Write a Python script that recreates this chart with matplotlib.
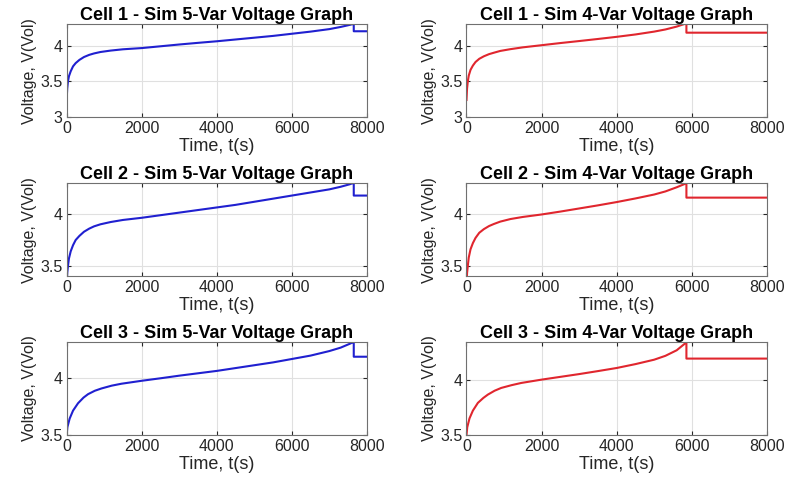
import matplotlib.pyplot as plt

# time (s) and voltage (V)
t5_c1 = [0, 15, 35, 60, 107, 170, 240, 340, 462, 600, 729, 900, 1173, 1500, 2000, 2500, 3000, 3500, 4000,
         4500, 5000, 5500, 6000, 6500, 7000, 7300, 7550, 7620, 7650, 7650, 8000]
v5_c1 = [3.25, 3.40, 3.50, 3.57, 3.64, 3.71, 3.755, 3.80, 3.84, 3.87, 3.89, 3.91, 3.93, 3.948, 3.965, 3.99, 4.015,
         4.038, 4.06, 4.085, 4.11, 4.135, 4.165, 4.195, 4.23, 4.26, 4.29, 4.30, 4.30, 4.20, 4.20]
t4_c1 = [0, 15, 35, 60, 107, 170, 240, 340, 462, 600, 729, 900, 1173, 1500, 2000, 2500, 3000, 3500, 4000,
         4500, 5000, 5300, 5600, 5800, 5860, 5860, 8000]
v4_c1 = [3.24, 3.40, 3.50, 3.58, 3.66, 3.72, 3.77, 3.815, 3.85, 3.88, 3.90, 3.925, 3.95, 3.975, 4.005, 4.035, 4.063,
         4.092, 4.122, 4.155, 4.195, 4.225, 4.265, 4.30, 4.31, 4.18, 4.18]

t5_c2 = [0, 15, 35, 60, 107, 170, 240, 340, 462, 600, 729, 900, 1173, 1500, 2000, 2500, 3000, 3500, 4000,
         4500, 5000, 5500, 6000, 6500, 7000, 7300, 7550, 7620, 7650, 7650, 8000]
v5_c2 = [3.32, 3.43, 3.50, 3.57, 3.64, 3.70, 3.75, 3.79, 3.83, 3.86, 3.882, 3.902, 3.924, 3.944, 3.965, 3.99, 4.015,
         4.04, 4.065, 4.09, 4.12, 4.15, 4.18, 4.21, 4.24, 4.265, 4.29, 4.30, 4.30, 4.18, 4.18]
t4_c2 = [0, 15, 35, 60, 107, 170, 240, 340, 462, 600, 729, 900, 1173, 1500, 2000, 2500, 3000, 3500, 4000,
         4500, 5000, 5300, 5600, 5800, 5860, 5860, 8000]
v4_c2 = [3.30, 3.43, 3.50, 3.58, 3.66, 3.72, 3.77, 3.82, 3.855, 3.885, 3.905, 3.928, 3.953, 3.973, 3.997, 4.025, 4.055,
         4.085, 4.117, 4.152, 4.19, 4.22, 4.26, 4.29, 4.30, 4.16, 4.16]

t5_c3 = [0, 20, 80, 170, 303, 450, 570, 750, 925, 1200, 1460, 2000, 2500, 3000, 3500, 4000, 4500, 5000, 5500,
         6000, 6500, 7000, 7300, 7550, 7640, 7650, 7650, 8000]
v5_c3 = [3.50, 3.57, 3.645, 3.715, 3.78, 3.83, 3.86, 3.89, 3.91, 3.935, 3.952, 3.978, 4.0, 4.023, 4.044, 4.065, 4.09,
         4.115, 4.14, 4.17, 4.20, 4.24, 4.27, 4.305, 4.32, 4.32, 4.19, 4.19]
t4_c3 = [0, 20, 80, 170, 303, 450, 570, 750, 925, 1200, 1460, 2000, 2500, 3000, 3500, 4000, 4500, 5000, 5300,
         5600, 5800, 5860, 5860, 8000]
v4_c3 = [3.50, 3.57, 3.65, 3.72, 3.79, 3.835, 3.865, 3.90, 3.925, 3.95, 3.97, 4.0, 4.025, 4.05, 4.077, 4.105, 4.14,
         4.18, 4.215, 4.265, 4.32, 4.34, 4.19, 4.19]

xticks = [0, 2000, 4000, 6000, 8000]

panels = [
    ("Cell 1 - Sim 5-Var Voltage Graph", t5_c1, v5_c1, (3, 4.3), [3, 3.5, 4]),
    ("Cell 1 - Sim 4-Var Voltage Graph", t4_c1, v4_c1, (3, 4.3), [3, 3.5, 4]),
    ("Cell 2 - Sim 5-Var Voltage Graph", t5_c2, v5_c2, (3.4, 4.3), [3.5, 4]),
    ("Cell 2 - Sim 4-Var Voltage Graph", t4_c2, v4_c2, (3.4, 4.3), [3.5, 4]),
    ("Cell 3 - Sim 5-Var Voltage Graph", t5_c3, v5_c3, (3.5, 4.32), [3.5, 4]),
    ("Cell 3 - Sim 4-Var Voltage Graph", t4_c3, v4_c3, (3.5, 4.34), [3.5, 4]),
]

plt.rcParams['font.family'] = ['Liberation Sans', 'DejaVu Sans']

fig = plt.figure(figsize=(7.88, 4.82), dpi=100)
lefts = [0.0846, 0.592]
bottoms = [0.757, 0.427, 0.0975]
W, H = 0.381, 0.193

for i, (title, t, v, ylim, yt) in enumerate(panels):
    row, col = divmod(i, 2)
    ax = fig.add_axes([lefts[col], bottoms[row], W, H])
    color = '#2020d0' if col == 0 else '#e0262e'
    ax.plot(t, v, color=color, lw=1.5)
    ax.set_xlim(0, 8000)
    ax.set_ylim(*ylim)
    ax.set_xticks(xticks)
    ax.set_yticks(yt)
    ax.set_yticklabels([f"{y:g}" for y in yt])
    ax.grid(True, color='#e0e0e0', lw=0.8)
    ax.set_axisbelow(True)
    ax.tick_params(direction='in', length=3, labelsize=11.5, colors='#262626',
                   top=True, right=True, labeltop=False, labelright=False, pad=3)
    for s in ax.spines.values():
        s.set_color('#707070')
        s.set_linewidth(0.8)
    ax.set_title(title, fontsize=13, fontweight='bold', pad=3)
    ax.set_xlabel("Time, t(s)", fontsize=13, color='#262626', labelpad=1)
    ax.set_ylabel("Voltage, V(Vol)", fontsize=11.5, color='#262626', labelpad=2)

fig.savefig("out.png", dpi=100)
